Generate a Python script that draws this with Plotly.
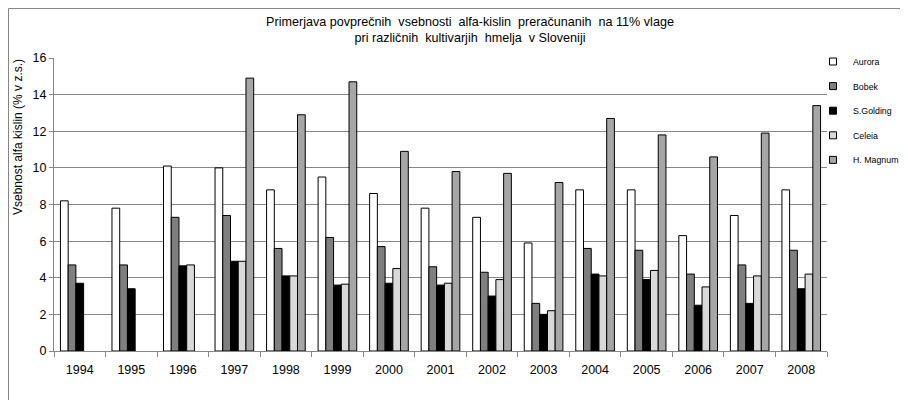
import plotly.graph_objects as go

years = ["1994", "1995", "1996", "1997", "1998", "1999", "2000", "2001",
         "2002", "2003", "2004", "2005", "2006", "2007", "2008"]
aurora = [8.2, 7.8, 10.1, 10.0, 8.8, 9.5, 8.6, 7.8, 7.3, 5.9, 8.8, 8.8, 6.3, 7.4, 8.8]
bobek = [4.7, 4.7, 7.3, 7.4, 5.6, 6.2, 5.7, 4.6, 4.3, 2.6, 5.6, 5.5, 4.2, 4.7, 5.5]
s_golding = [3.7, 3.4, 4.65, 4.9, 4.1, 3.6, 3.7, 3.6, 3.0, 2.0, 4.2, 3.9, 2.5, 2.6, 3.4]
celeia = [None, None, 4.7, 4.9, 4.1, 3.65, 4.5, 3.7, 3.9, 2.2, 4.1, 4.4, 3.5, 4.1, 4.2]
h_magnum = [None, None, None, 14.9, 12.9, 14.7, 10.9, 9.8, 9.7, 9.2, 12.7, 11.8, 10.6, 11.9, 13.4]
series_names = ["Aurora", "Bobek", "S.Golding", "Celeia", "H. Magnum"]
y_ticks = [0, 2, 4, 6, 8, 10, 12, 14, 16]

colors = ["#ffffff", "#7f7f7f", "#000000", "#d9d9d9", "#a6a6a6"]
series = [aurora, bobek, s_golding, celeia, h_magnum]

# page offset caused by default body margin
OFF = 8
W, H = 908 - OFF, 400 - OFF
ml, mt = 54 - OFF, 58 - OFF
plot_right, plot_bottom = 827 - OFF, 351 - OFF
mr, mb = W - plot_right, H - plot_bottom
pw, ph = W - ml - mr, H - mt - mb


def px_x(page_x):
    return (page_x - OFF - ml) / pw


def px_y(page_y):
    return 1 - (page_y - OFF - mt) / ph


fig = go.Figure()
for name, vals, col in zip(series_names, series, colors):
    fig.add_trace(go.Bar(
        x=years, y=vals, name=name, showlegend=False,
        marker=dict(color=col, line=dict(color="#000000", width=1)),
    ))
for i, (name, col) in enumerate(zip(series_names, colors)):
    fig.add_trace(go.Scatter(
        x=[None], y=[None], name=name, mode="markers", legendgroup=str(i),
        marker=dict(symbol="square", size=7, color=col,
                    line=dict(color="#000000", width=1)),
    ))

font_main = "Liberation Sans, Arial, sans-serif"

fig.update_layout(
    width=W, height=H,
    margin=dict(l=ml, r=mr, t=mt, b=mb, autoexpand=False),
    paper_bgcolor="white", plot_bgcolor="white",
    barmode="group", bargap=0.25, bargroupgap=0,
    font=dict(family=font_main, size=12, color="#000000"),
    title=dict(
        text="Primerjava povprečnih  vsebnosti  alfa-kislin  preračunanih  na 11% vlage<br>pri različnih  kultivarjih  hmelja  v Sloveniji",
        x=(470 - OFF) / W, xanchor="center", y=1 - (26 - OFF) / H, yanchor="top",
        font=dict(family=font_main, size=12.6, color="#000000"),
    ),
    legend=dict(
        x=px_x(813), xanchor="left", y=px_y(47), yanchor="top",
        font=dict(family=font_main, size=8.8, color="#000000"),
        tracegroupgap=5.6, itemwidth=30, bgcolor="rgba(0,0,0,0)",
    ),
    xaxis=dict(
        type="category", showgrid=False, showline=True, linecolor="#868686",
        linewidth=1, ticks="outside", tickson="boundaries", ticklen=5,
        tickcolor="#868686", tickfont=dict(size=12.5), ticklabelstandoff=7,
    ),
    yaxis=dict(
        range=[0, 16], tickvals=y_ticks, showgrid=True, gridcolor="#868686",
        gridwidth=1, showline=True, linecolor="#868686", linewidth=1,
        ticks="outside", ticklen=4, tickcolor="#868686", zeroline=False,
        tickfont=dict(size=12.5),
    ),
    annotations=[dict(
        text="Vsebnost alfa kislin (% v z.s.)", textangle=-90,
        xref="paper", yref="paper", x=px_x(18), y=px_y(57),
        xanchor="center", yanchor="top", showarrow=False,
        font=dict(family=font_main, size=12, color="#000000"),
    )],
    shapes=[
        dict(type="line", xref="paper", yref="paper",
             x0=px_x(8.5), x1=px_x(8.5), y0=px_y(8.5), y1=px_y(405),
             line=dict(color="#868686", width=1)),
        dict(type="line", xref="paper", yref="paper",
             x0=px_x(8.5), x1=px_x(915), y0=px_y(8.5), y1=px_y(8.5),
             line=dict(color="#868686", width=1)),
    ],
)

fig.write_html("out.html")
